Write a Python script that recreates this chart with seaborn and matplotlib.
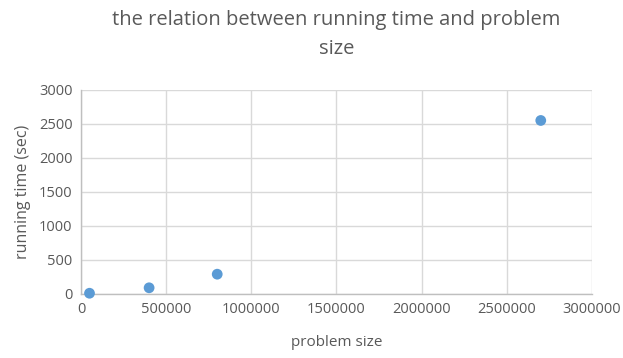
import matplotlib
matplotlib.use("Agg")
import matplotlib.pyplot as plt
import seaborn as sns
import pandas as pd

problem_size = [50000, 400000, 800000, 2700000]
running_time = [10, 90, 290, 2550]
x_ticks = [0, 500000, 1000000, 1500000, 2000000, 2500000, 3000000]
y_ticks = [0, 500, 1000, 1500, 2000, 2500, 3000]

df = pd.DataFrame({"problem size": problem_size, "running time (sec)": running_time})

sns.set_theme(style="white")
plt.rcParams["font.family"] = ["Open Sans", "DejaVu Sans"]

text_color = "#595959"
grid_color = "#d9d9d9"

fig = plt.figure(figsize=(6.23, 3.58), dpi=100)
ax = fig.add_axes([0.130, 0.179, 0.820, 0.570])

sns.scatterplot(data=df, x="problem size", y="running time (sec)", ax=ax,
                color="#5b9bd5", s=60, edgecolor="none", zorder=3, clip_on=False)

ax.set_xlim(0, 3000000)
ax.set_ylim(0, 3000)
ax.set_xticks(x_ticks)
ax.set_yticks(y_ticks)
ax.set_xticklabels([str(v) for v in x_ticks])
ax.set_yticklabels([str(v) for v in y_ticks])
ax.grid(True, color=grid_color, linewidth=1)
ax.set_axisbelow(True)

for side in ["top", "right"]:
    ax.spines[side].set_visible(False)
for side in ["left", "bottom"]:
    ax.spines[side].set_color("#bfbfbf")
    ax.spines[side].set_linewidth(1)

ax.tick_params(axis="both", colors=text_color, labelsize=10.5, length=0, pad=6)
ax.set_xlabel("problem size", color=text_color, fontsize=11, labelpad=13)
ax.set_ylabel("running time (sec)", color=text_color, fontsize=11.5, labelpad=6)
ax.set_title("the relation between running time and problem\nsize",
             color=text_color, fontsize=14.5, pad=26, linespacing=1.6)

fig.savefig("out.png", dpi=100, facecolor="white")
